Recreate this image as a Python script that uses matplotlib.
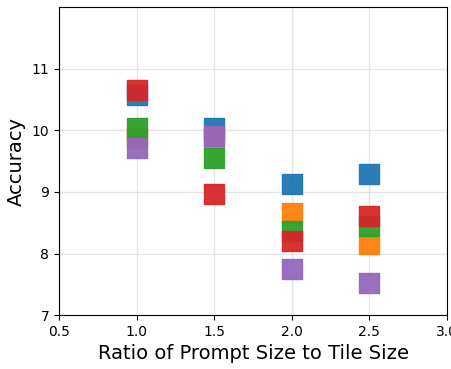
import matplotlib.pyplot as plt

ratios = [1.0, 1.5, 2.0, 2.5]
series = {
    "blue": [10.57, 10.03, 9.13, 9.29],
    "orange": [9.87, 9.87, 8.65, 8.16],
    "green": [10.04, 9.55, 8.36, 8.44],
    "red": [10.65, 8.97, 8.20, 8.61],
    "purple": [9.72, 9.90, 7.75, 7.52],
}
colors = ["tab:blue", "tab:orange", "tab:green", "tab:red", "tab:purple"]

fig = plt.figure(figsize=(4.51, 3.69), dpi=100)
ax = fig.add_axes([0.131, 0.146, 0.86, 0.835])

for (name, vals), c in zip(series.items(), colors):
    ax.scatter(ratios, vals, marker="s", s=190, color=c, alpha=0.95, zorder=3)

ax.set_xlim(0.5, 3.0)
ax.set_ylim(7, 12)
ax.set_xticks([0.5, 1.0, 1.5, 2.0, 2.5, 3.0])
ax.set_yticks([7, 8, 9, 10, 11])
ax.grid(True, color="#cccccc", alpha=0.5, linewidth=1)
ax.set_xlabel("Ratio of Prompt Size to Tile Size", fontsize=14)
ax.set_ylabel("Accuracy", fontsize=14)
ax.tick_params(labelsize=10)

fig.savefig("out.png", dpi=100)
